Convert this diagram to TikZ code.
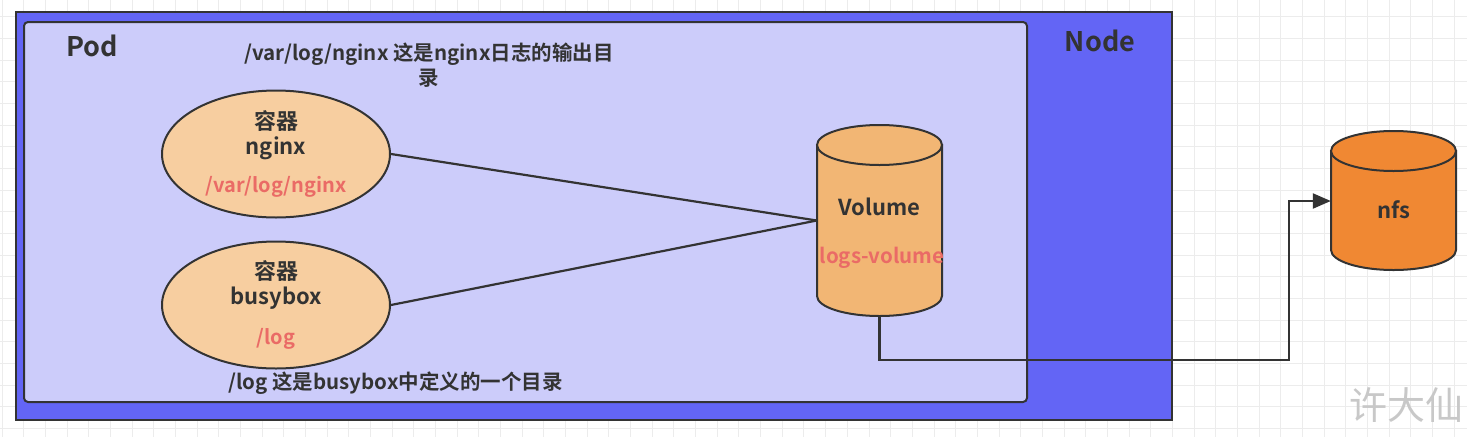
\documentclass[tikz,border=0pt]{standalone}
\usepackage{fontspec}
\setmainfont{Noto Sans CJK SC}[BoldFont={Noto Sans CJK SC Bold}]
\usetikzlibrary{shapes.geometric,arrows.meta}
\definecolor{ink}{RGB}{51,51,51}
\definecolor{gridgray}{RGB}{236,236,236}
\definecolor{nodeblue}{RGB}{99,101,245}
\definecolor{podfill}{RGB}{204,204,250}
\definecolor{cfill}{RGB}{247,206,160}
\definecolor{volfill}{RGB}{242,182,116}
\definecolor{nfsfill}{RGB}{240,136,51}
\definecolor{redtxt}{RGB}{234,107,102}
\definecolor{watergray}{RGB}{200,200,200}
\begin{document}
\begin{tikzpicture}[x=1pt,y=-1pt,
    every node/.style={text=ink},
    big/.style={font=\bfseries\fontsize{27}{30}\selectfont},
    mid/.style={font=\bfseries\fontsize{22}{25}\selectfont},
    small/.style={font=\bfseries\fontsize{20.5}{25}\selectfont},
    box/.style={draw=ink,line width=2pt},
    wire/.style={draw=ink,line width=2.2pt},
    gridline/.style={draw=gridgray,line width=1pt},
    container/.style={ellipse,draw=ink,line width=2pt,fill=cfill,minimum width=228pt,minimum height=127pt,align=center,inner sep=0pt,mid}]
  \useasboundingbox (0,0) rectangle (1467,437);
  \fill[white] (0,0) rectangle (1467,437);
  % grid
  \foreach \i in {0,...,67} \draw[gridline] (2.2+21.67*\i,0) -- ++(0,437);
  \foreach \j in {0,...,19} \draw[gridline] (0,16.7+21.67*\j) -- ++(1467,0);
  % node and pod
  \draw[box,fill=nodeblue] (16,12) rectangle (1171.5,420);
  \draw[box,fill=podfill,rounded corners=4pt] (24,22) rectangle (1027,402);
  \node[big] (podlabel) at (92,46) {Pod};
  \node[big] (nodelabel) at (1100,41) {Node};
  \node[small,align=center] (nginxnote) at (429,65.5) {/var/log/nginx 这是nginx日志的输出目\\录};
  \node[small] (busynote) at (395.5,383) {/log 这是busybox中定义的一个目录};
  % containers
  \node[container] (nginx) at (276,154) {容器\\nginx\\[13pt]{\color{redtxt}\fontsize{20}{20}\selectfont /var/log/nginx}};
  \node[container] (busybox) at (276,305) {容器\\busybox\\[15pt]{\color{redtxt}\fontsize{20}{20}\selectfont /log}};
  % volume
  \filldraw[box,fill=volfill] (817,145) -- (817,296) arc[start angle=180,end angle=0,x radius=62.5,y radius=20] -- (942,145) -- cycle;
  \filldraw[box,fill=volfill] (879.5,145) ellipse [x radius=62.5,y radius=20];
  \node[minimum width=125pt,minimum height=191pt] (vol) at (879.5,220.5) {};
  \node[mid] (volname) at (879.5,207) {Volume};
  \node[small,text=redtxt] (volpath) at (882,258) {logs-volume};
  % nfs
  \filldraw[box,fill=nfsfill] (1331,151) -- (1331,250) arc[start angle=180,end angle=0,x radius=62.5,y radius=20] -- (1456,151) -- cycle;
  \filldraw[box,fill=nfsfill] (1393.5,151) ellipse [x radius=62.5,y radius=20];
  \node[minimum width=125pt,minimum height=138pt] (nfs) at (1393.5,201) {};
  \node[mid] (nfsname) at (1393.5,210) {nfs};
  % connectors
  \coordinate (bend) at (1289,360);
  \draw[wire] (nginx.east) -- (vol.west);
  \draw[wire] (busybox.east) -- (vol.west);
  \draw[wire,-{Triangle[length=18pt,width=15pt]}] (vol.south) |- (bend) |- (nfs.west);
  % watermark
  \node[anchor=west,text=watergray,font=\fontsize{38}{38}\selectfont] (mark) at (1346,405) {许大仙};
\end{tikzpicture}
\end{document}
